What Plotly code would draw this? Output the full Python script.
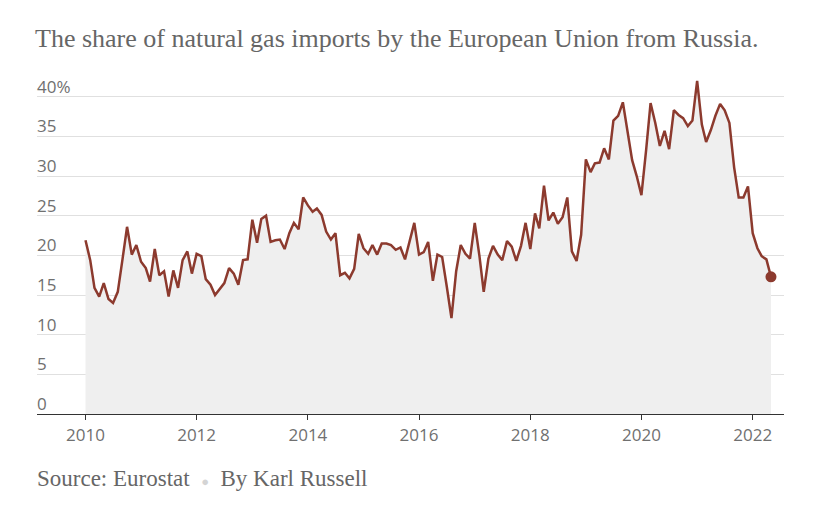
import pandas as pd
import plotly.graph_objects as go

# ---- data ----
start_month = "2010-01-01"
share = [
    21.9, 19.4, 15.9, 14.8, 16.5, 14.5, 14.0, 15.4, 19.5, 23.6, 20.1, 21.3,  # 2010
    19.2, 18.4, 16.7, 20.8, 17.5, 18.0, 14.8, 18.1, 15.9, 19.4, 20.5, 17.7,  # 2011
    20.2, 19.9, 17.0, 16.3, 15.0, 15.7, 16.5, 18.4, 17.7, 16.3, 19.4, 19.5,  # 2012
    24.5, 21.6, 24.6, 25.0, 21.7, 21.9, 22.0, 20.8, 22.8, 24.1, 23.3, 27.3,  # 2013
    26.3, 25.5, 25.9, 25.1, 23.0, 22.0, 22.8, 17.5, 17.8, 17.1, 18.3, 22.7,  # 2014
    20.9, 20.2, 21.3, 20.1, 21.5, 21.5, 21.3, 20.7, 21.0, 19.5, 21.7, 24.1,  # 2015
    20.1, 20.4, 21.7, 16.8, 20.1, 19.8, 16.1, 12.1, 18.0, 21.3, 20.2, 19.6,  # 2016
    24.1, 19.9, 15.4, 19.6, 21.2, 20.1, 19.4, 21.8, 21.1, 19.3, 21.2, 24.1,  # 2017
    20.8, 25.3, 23.4, 28.8, 24.4, 25.4, 24.0, 24.8, 27.3, 20.5, 19.3, 22.6,  # 2018
    32.1, 30.5, 31.6, 31.7, 33.5, 32.1, 37.0, 37.6, 39.3, 35.6, 32.0, 30.0,  # 2019
    27.6, 33.3, 39.2, 36.7, 33.8, 35.7, 33.4, 38.3, 37.7, 37.3, 36.3, 37.0,  # 2020
    42.0, 36.5, 34.3, 35.8, 37.6, 39.1, 38.3, 36.7, 31.1, 27.3, 27.3, 28.7,  # 2021
    22.8, 20.9, 19.9, 19.5, 17.3,                                            # 2022
]
months = pd.date_range(start_month, periods=len(share), freq="MS")

y_tickvals = [0, 5, 10, 15, 20, 25, 30, 35, 40]
y_ticktext = ["0", "5", "10", "15", "20", "25", "30", "35", "40%"]

title_text = "The share of natural gas imports by the European Union from Russia."
source_text = ("Source: Eurostat\u2002<span style='color:#d4d4d4;font-size:13px'>\u25CF</span>\u2002By Karl Russell")

# ---- style ----
LINE = "#8c3a2e"
FILL = "#efefef"
GRID = "#e0e0e0"
TICKFONT = dict(family="Open Sans, Liberation Sans, sans-serif", size=17, color="#707070")
SERIF = "Liberation Serif, Times New Roman, serif"

OFF = 8  # page body margin: the figure is drawn 8px right and down
W, H = 813, 510
plot_left, plot_right, plot_top, plot_bottom = 37 - OFF, 784 - OFF, 69 - OFF, 414 - OFF

fig = go.Figure()
fig.add_trace(go.Scatter(
    x=months, y=share, mode="lines",
    line=dict(color=LINE, width=2.5),
    fill="tozeroy", fillcolor=FILL,
    hoverinfo="skip", showlegend=False,
))
fig.add_trace(go.Scatter(
    x=[months[-1]], y=[share[-1]], mode="markers",
    marker=dict(color=LINE, size=11),
    hoverinfo="skip", showlegend=False,
))

# x range so that 2010 and 2022 ticks land where the reference has them
px_2010, px_2022 = 85.5 - OFF, 752.7 - OFF
t2010 = pd.Timestamp("2010-01-01")
t2022 = pd.Timestamp("2022-01-01")
per_px = (t2022 - t2010) / (px_2022 - px_2010)
x0 = t2010 - per_px * (px_2010 - plot_left)
x1 = t2022 + per_px * (plot_right - px_2022)

fig.update_layout(
    width=W, height=H,
    margin=dict(l=plot_left, r=W - plot_right, t=plot_top, b=H - plot_bottom),
    paper_bgcolor="white", plot_bgcolor="white",
    title=dict(
        text=title_text, xref="container", yref="container",
        x=(35 - OFF) / W, xanchor="left", y=1 - (38 - OFF) / H, yanchor="middle",
        font=dict(family=SERIF, size=26, color="#666666"),
    ),
    xaxis=dict(
        type="date", range=[x0, x1],
        tickformat="%Y", dtick="M24", tick0="2010-01-01",
        ticks="outside", ticklen=5, tickcolor="#333", tickwidth=1,
        showline=True, linecolor="#333", linewidth=1.3,
        showgrid=False, zeroline=False,
        tickfont=TICKFONT,
    ),
    yaxis=dict(
        range=[0, 43.5],
        tickvals=y_tickvals, ticktext=y_ticktext,
        ticklabelposition="inside top", ticklabeloverflow="allow",
        ticklabelstandoff=-3, ticklabelshift=2,
        showgrid=True, gridcolor=GRID, gridwidth=1,
        zeroline=False, showline=False, ticks="",
        tickfont=TICKFONT,
    ),
    annotations=[dict(
        text=source_text, xref="paper", yref="paper",
        x=0, xanchor="left", xshift=35 - 37,
        y=0, yanchor="middle", yshift=-(478 - 414),
        showarrow=False,
        font=dict(family=SERIF, size=23, color="#666666"),
    )],
)

fig.write_html("out.html")
